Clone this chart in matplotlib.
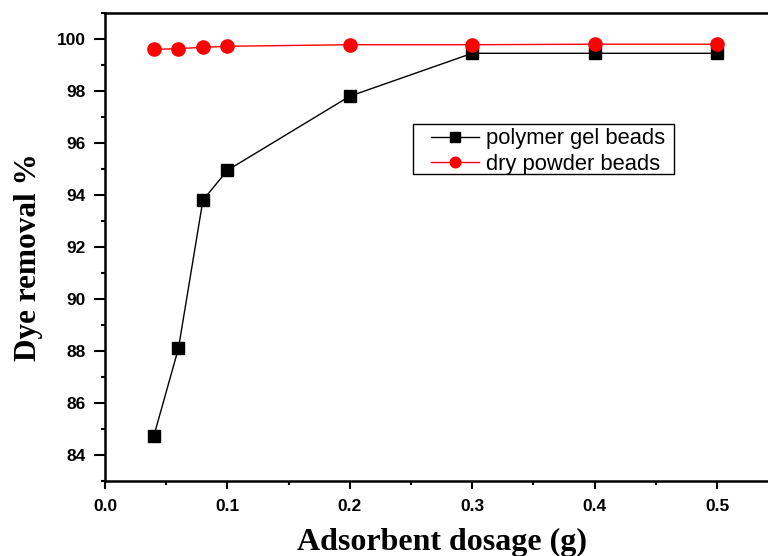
import matplotlib
matplotlib.use("Agg")
import matplotlib.pyplot as plt
from matplotlib.ticker import MultipleLocator
from matplotlib.patches import Rectangle

dosage = [0.04, 0.06, 0.08, 0.1, 0.2, 0.3, 0.4, 0.5]
gel_beads = [84.75, 88.1, 93.8, 94.95, 97.8, 99.45, 99.45, 99.45]
dry_beads = [99.6, 99.63, 99.68, 99.72, 99.78, 99.78, 99.8, 99.8]
x_ticks = [0.0, 0.1, 0.2, 0.3, 0.4, 0.5]
y_ticks = [84, 86, 88, 90, 92, 94, 96, 98, 100]

fig = plt.figure(figsize=(7.68, 5.56), dpi=100)
W, H = 768, 556
left, right, top, bottom = 105, 768, 13, 481
ax = fig.add_axes([left / W, (H - bottom) / H, (right - left) / W, (bottom - top) / H])

ax.plot(dosage, gel_beads, color="black", lw=1, marker="s", ms=8.5, label="polymer gel beads")
ax.plot(dosage, dry_beads, color="red", lw=1, marker="o", ms=9.5, label="dry powder beads")

ax.set_xlim(0, (right - left) / 122.4 * 0.1)
ax.set_ylim(83, 101)
ax.set_xticks(x_ticks)
ax.set_yticks(y_ticks)
ax.set_xticklabels([f"{v:.1f}" for v in x_ticks])
ax.set_yticklabels([str(v) for v in y_ticks])
ax.xaxis.set_minor_locator(MultipleLocator(0.05))
ax.yaxis.set_minor_locator(MultipleLocator(1))
ax.tick_params(which="both", direction="out", width=1.5)
ax.tick_params(axis="y", which="major", length=8, pad=6)
ax.tick_params(axis="x", which="major", length=6, pad=7)
ax.tick_params(which="minor", length=3)
for lab in ax.get_xticklabels() + ax.get_yticklabels():
    lab.set_fontfamily("Liberation Sans")
    lab.set_fontweight("bold")
    lab.set_fontsize(12.5)
ax.spines["right"].set_visible(False)
for s in ["left", "bottom", "top"]:
    ax.spines[s].set_linewidth(1.8)

fig.text(442 / W, 1 - 542 / H, "Adsorbent dosage (g)", fontfamily="Liberation Serif",
         fontweight="bold", fontsize=23, ha="center", va="center")
fig.text(29 / W, 1 - 257 / H, "Dye removal %", fontfamily="Liberation Serif",
         fontweight="bold", fontsize=22.5, ha="center", va="center", rotation=90)

# legend frame
fig.add_artist(Rectangle((413 / W, 1 - 174 / H), (674 - 413) / W, (174 - 124) / H,
                         transform=fig.transFigure, fill=False, edgecolor="black", lw=1))
leg = ax.legend(loc="center left",
                bbox_to_anchor=(431 / W, 1 - 151.5 / H), bbox_transform=fig.transFigure,
                prop={"family": "Liberation Sans", "size": 15.8}, frameon=False,
                borderpad=0, labelspacing=0.2, handlelength=2.2, handletextpad=0.3,
                markerscale=0.8, borderaxespad=0)

fig.savefig("out.png", dpi=100)
